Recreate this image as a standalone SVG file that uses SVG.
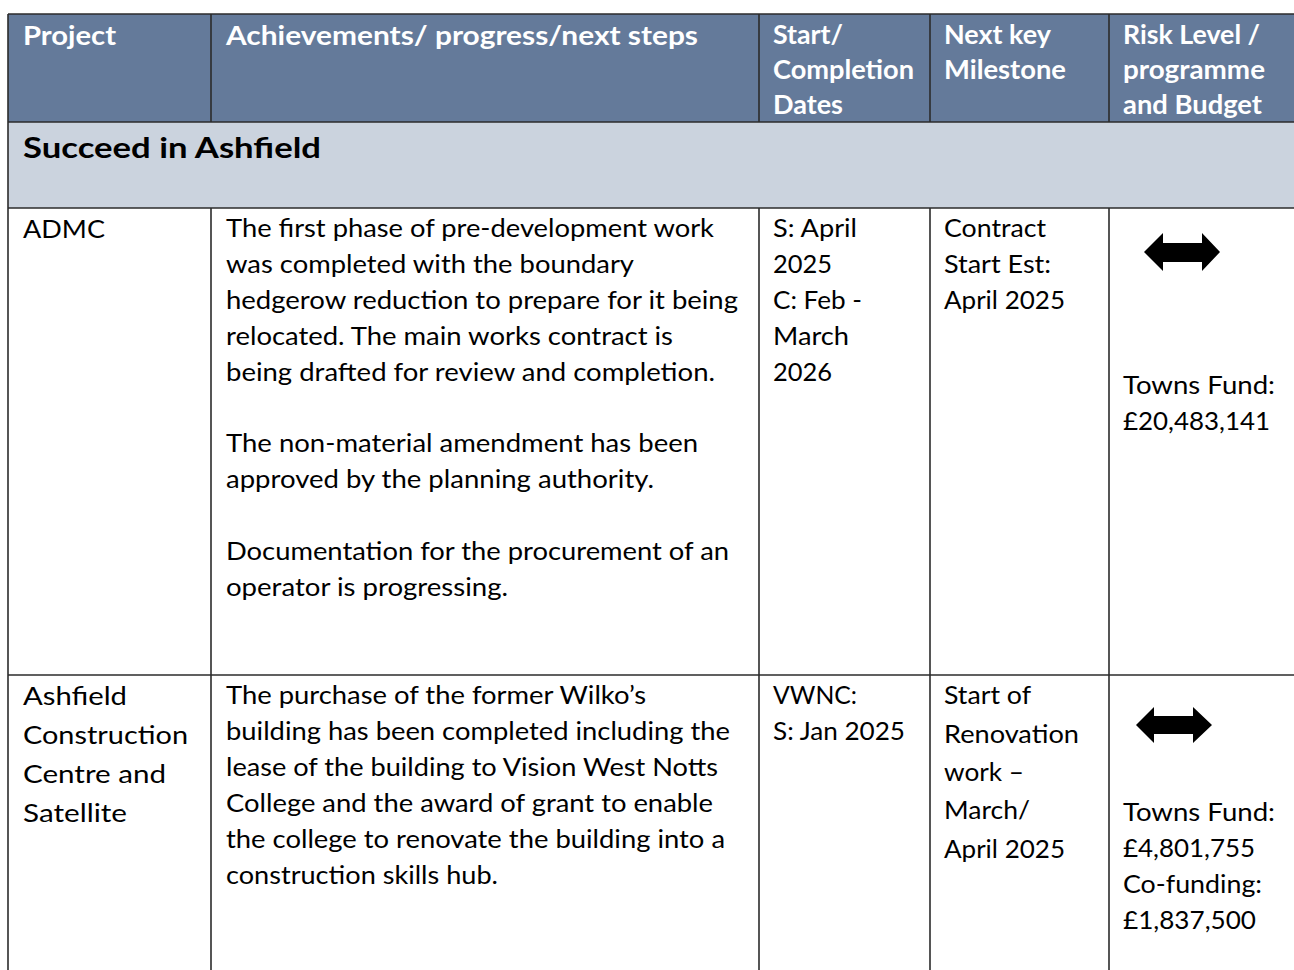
<svg xmlns="http://www.w3.org/2000/svg" width="1294" height="970" viewBox="0 0 1294 970">
<style>
.hdr{fill:#647A9A}
.sec{fill:#CBD3DE}
.grid line{stroke:#2b2b2b;stroke-width:1.6}
.h{font-family:Lato,"Liberation Sans",sans-serif;font-weight:bold;font-size:26px;fill:#ffffff}
.s{font-family:Lato,"Liberation Sans",sans-serif;font-weight:bold;font-size:29px;fill:#000000}
.t{font-family:Lato,"Liberation Sans",sans-serif;font-size:25.5px;fill:#000000}
.arr{fill:#000000}
</style>
<rect width="1294" height="970" fill="#ffffff"/>
<rect class="hdr" x="8" y="14" width="1286" height="108"/>
<rect class="sec" x="8" y="122" width="1286" height="86"/>

<g id="grid" class="grid">
<line x1="8" y1="14" x2="1294" y2="14"/>
<line x1="8" y1="122" x2="1294" y2="122"/>
<line x1="8" y1="208" x2="1294" y2="208"/>
<line x1="8" y1="675" x2="1294" y2="675"/>
<line x1="8" y1="14" x2="8" y2="970"/>
<line x1="211" y1="14" x2="211" y2="122"/>
<line x1="759" y1="14" x2="759" y2="122"/>
<line x1="930" y1="14" x2="930" y2="122"/>
<line x1="1109" y1="14" x2="1109" y2="122"/>
<line x1="211" y1="208" x2="211" y2="970"/>
<line x1="759" y1="208" x2="759" y2="970"/>
<line x1="930" y1="208" x2="930" y2="970"/>
<line x1="1109" y1="208" x2="1109" y2="970"/>
</g>

<g id="header">
<text class="h" x="23" y="45" textLength="93" lengthAdjust="spacingAndGlyphs">Project</text>
<text class="h" x="226" y="45" textLength="472" lengthAdjust="spacingAndGlyphs">Achievements/ progress/next steps</text>
<text class="h" x="773" y="44" textLength="70" lengthAdjust="spacingAndGlyphs">Start/</text>
<text class="h" x="773" y="79" textLength="141" lengthAdjust="spacingAndGlyphs">Completion</text>
<text class="h" x="773" y="114" textLength="70" lengthAdjust="spacingAndGlyphs">Dates</text>
<text class="h" x="944" y="44" textLength="107" lengthAdjust="spacingAndGlyphs">Next key</text>
<text class="h" x="944" y="79" textLength="122" lengthAdjust="spacingAndGlyphs">Milestone</text>
<text class="h" x="1123" y="44" textLength="137" lengthAdjust="spacingAndGlyphs">Risk Level /</text>
<text class="h" x="1123" y="79" textLength="142" lengthAdjust="spacingAndGlyphs">programme</text>
<text class="h" x="1123" y="114" textLength="139" lengthAdjust="spacingAndGlyphs">and Budget</text>
</g>

<g id="section">
<text class="s" x="23" y="158" textLength="298" lengthAdjust="spacingAndGlyphs">Succeed in Ashfield</text>
</g>

<g id="row1-project">
<text class="t" x="23" y="238" textLength="82" lengthAdjust="spacingAndGlyphs">ADMC</text>
</g>
<g id="row1-progress">
<text class="t" x="226" y="237" textLength="488" lengthAdjust="spacingAndGlyphs">The first phase of pre-development work</text>
<text class="t" x="226" y="273" textLength="408" lengthAdjust="spacingAndGlyphs">was completed with the boundary</text>
<text class="t" x="226" y="309" textLength="512" lengthAdjust="spacingAndGlyphs">hedgerow reduction to prepare for it being</text>
<text class="t" x="226" y="345" textLength="447" lengthAdjust="spacingAndGlyphs">relocated. The main works contract is</text>
<text class="t" x="226" y="381" textLength="489" lengthAdjust="spacingAndGlyphs">being drafted for review and completion.</text>
<text class="t" x="226" y="452" textLength="472" lengthAdjust="spacingAndGlyphs">The non-material amendment has been</text>
<text class="t" x="226" y="488" textLength="428" lengthAdjust="spacingAndGlyphs">approved by the planning authority.</text>
<text class="t" x="226" y="560" textLength="503" lengthAdjust="spacingAndGlyphs">Documentation for the procurement of an</text>
<text class="t" x="226" y="596" textLength="282" lengthAdjust="spacingAndGlyphs">operator is progressing.</text>
</g>
<g id="row1-dates">
<text class="t" x="773" y="237" textLength="84" lengthAdjust="spacingAndGlyphs">S: April</text>
<text class="t" x="773" y="273" textLength="59" lengthAdjust="spacingAndGlyphs">2025</text>
<text class="t" x="773" y="309" textLength="89" lengthAdjust="spacingAndGlyphs">C: Feb -</text>
<text class="t" x="773" y="345" textLength="76" lengthAdjust="spacingAndGlyphs">March</text>
<text class="t" x="773" y="381" textLength="59" lengthAdjust="spacingAndGlyphs">2026</text>
</g>
<g id="row1-milestone">
<text class="t" x="944" y="237" textLength="102" lengthAdjust="spacingAndGlyphs">Contract</text>
<text class="t" x="944" y="273" textLength="107" lengthAdjust="spacingAndGlyphs">Start Est:</text>
<text class="t" x="944" y="309" textLength="121" lengthAdjust="spacingAndGlyphs">April 2025</text>
</g>
<g id="row1-risk">
<path class="arr" d="M1144,252 L1163,233 L1163,243 L1202,243 L1202,233 L1220,252 L1202,271 L1202,262 L1163,262 L1163,271 Z"/>
<text class="t" x="1123" y="394" textLength="152" lengthAdjust="spacingAndGlyphs">Towns Fund:</text>
<text class="t" x="1123" y="430" textLength="147" lengthAdjust="spacingAndGlyphs">£20,483,141</text>
</g>

<g id="row2-project">
<text class="t" x="23" y="705" textLength="104" lengthAdjust="spacingAndGlyphs">Ashfield</text>
<text class="t" x="23" y="744" textLength="165" lengthAdjust="spacingAndGlyphs">Construction</text>
<text class="t" x="23" y="783" textLength="143" lengthAdjust="spacingAndGlyphs">Centre and</text>
<text class="t" x="23" y="822" textLength="104" lengthAdjust="spacingAndGlyphs">Satellite</text>
</g>
<g id="row2-progress">
<text class="t" x="226" y="704" textLength="420" lengthAdjust="spacingAndGlyphs">The purchase of the former Wilko’s</text>
<text class="t" x="226" y="740" textLength="504" lengthAdjust="spacingAndGlyphs">building has been completed including the</text>
<text class="t" x="226" y="776" textLength="492" lengthAdjust="spacingAndGlyphs">lease of the building to Vision West Notts</text>
<text class="t" x="226" y="812" textLength="487" lengthAdjust="spacingAndGlyphs">College and the award of grant to enable</text>
<text class="t" x="226" y="848" textLength="499" lengthAdjust="spacingAndGlyphs">the college to renovate the building into a</text>
<text class="t" x="226" y="884" textLength="272" lengthAdjust="spacingAndGlyphs">construction skills hub.</text>
</g>
<g id="row2-dates">
<text class="t" x="773" y="704" textLength="84" lengthAdjust="spacingAndGlyphs">VWNC:</text>
<text class="t" x="773" y="740" textLength="132" lengthAdjust="spacingAndGlyphs">S: Jan 2025</text>
</g>
<g id="row2-milestone">
<text class="t" x="944" y="704" textLength="87" lengthAdjust="spacingAndGlyphs">Start of</text>
<text class="t" x="944" y="743" textLength="135" lengthAdjust="spacingAndGlyphs">Renovation</text>
<text class="t" x="944" y="781" textLength="80" lengthAdjust="spacingAndGlyphs">work –</text>
<text class="t" x="944" y="819" textLength="86" lengthAdjust="spacingAndGlyphs">March/</text>
<text class="t" x="944" y="858" textLength="121" lengthAdjust="spacingAndGlyphs">April 2025</text>
</g>
<g id="row2-risk">
<path class="arr" d="M1136,725 L1154,707 L1154,716 L1193,716 L1193,707 L1212,725 L1193,743 L1193,734 L1154,734 L1154,743 Z"/>
<text class="t" x="1123" y="821" textLength="152" lengthAdjust="spacingAndGlyphs">Towns Fund:</text>
<text class="t" x="1123" y="857" textLength="132" lengthAdjust="spacingAndGlyphs">£4,801,755</text>
<text class="t" x="1123" y="893" textLength="139" lengthAdjust="spacingAndGlyphs">Co-funding:</text>
<text class="t" x="1123" y="929" textLength="133" lengthAdjust="spacingAndGlyphs">£1,837,500</text>
</g>
</svg>
